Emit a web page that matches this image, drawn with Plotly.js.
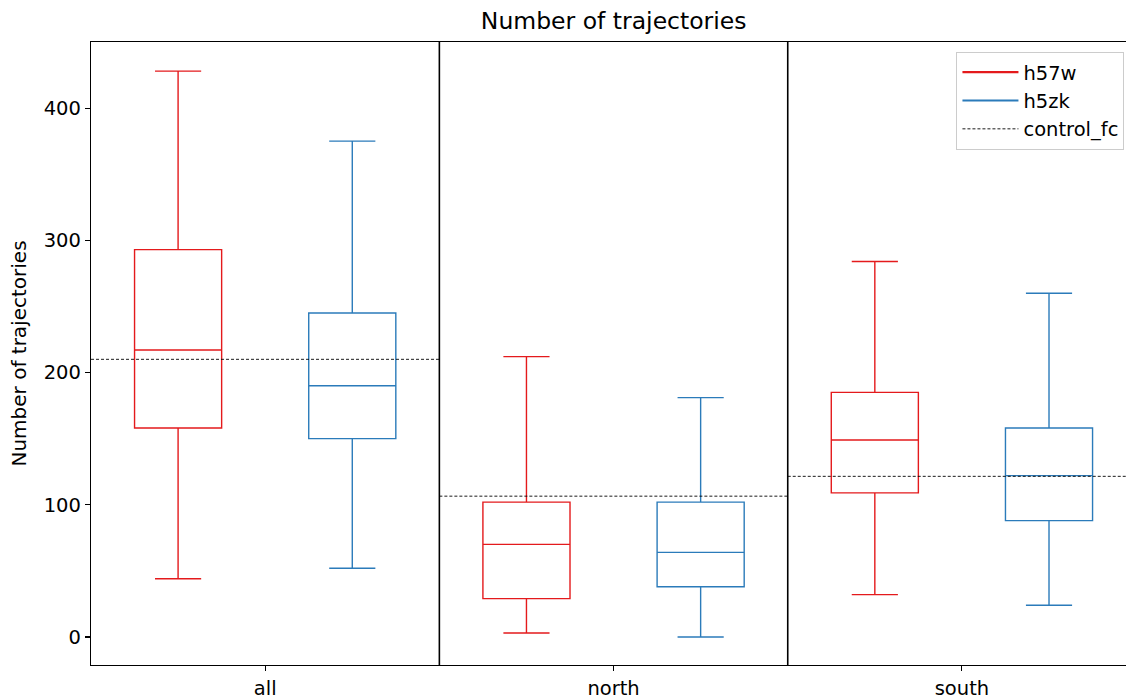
<!DOCTYPE html>
<html><head><meta charset="utf-8">
<script src="https://cdn.plot.ly/plotly-3.0.1.min.js"></script>
<style>html,body{margin:0;padding:0;background:#fff;}</style>
</head><body><div id="chart" style="width:1126px;height:698px;"></div>
<script>
const categories = ["all", "north", "south"];
const seriesNames = ["h57w", "h5zk"];
const h57w_low = [44, 3, 32];
const h57w_q1 = [158, 29, 109];
const h57w_med = [217, 70, 149];
const h57w_q3 = [293, 102, 185];
const h57w_high = [428, 212, 284];
const h5zk_low = [52, 0, 24];
const h5zk_q1 = [150, 38, 88];
const h5zk_med = [190, 64, 122];
const h5zk_q3 = [245, 102, 158];
const h5zk_high = [375, 181, 260];
const control_fc = [210, 106.5, 121.5];
const yTicks = [0, 100, 200, 300, 400];

const RED = "#e41a1c", BLUE = "#2b7bba";
const idx = categories.map((c, i) => i);

function boxTrace(name, color, off, low, q1, med, q3, high) {
  return {
    type: "box", name: name, showlegend: false,
    x: idx.map(i => i + off),
    lowerfence: low, q1: q1, median: med, q3: q3, upperfence: high,
    width: 0.25, whiskerwidth: 0.53,
    line: {color: color, width: 1.4},
    fillcolor: "rgba(255,255,255,0)",
    hoverinfo: "skip"
  };
}

const ctrlX = [], ctrlY = [];
control_fc.forEach((v, i) => { ctrlX.push(i - 0.5, i + 0.5, null); ctrlY.push(v, v, null); });

const traces = [
  boxTrace("h57w", RED, -0.25, h57w_low, h57w_q1, h57w_med, h57w_q3, h57w_high),
  boxTrace("h5zk", BLUE, 0.25, h5zk_low, h5zk_q1, h5zk_med, h5zk_q3, h5zk_high),
  {type: "scatter", mode: "lines", name: seriesNames[0], x: [null], y: [null], line: {color: RED, width: 2.1}},
  {type: "scatter", mode: "lines", name: seriesNames[1], x: [null], y: [null], line: {color: BLUE, width: 2.1}},
  {type: "scatter", mode: "lines", name: "control_fc", x: ctrlX, y: ctrlY, line: {color: "#000", width: 0.9, dash: "3px,2px"}, hoverinfo: "skip"}
];

const layout = {
  width: 1126, height: 698,
  margin: {l: 91, r: 0, t: 42, b: 33},
  paper_bgcolor: "#fff", plot_bgcolor: "#fff",
  font: {family: "DejaVu Sans", size: 19.5, color: "#000"},
  title: {text: "Number of trajectories", x: 0.505, xref: "paper", xanchor: "center", y: 1 - 21/698, yanchor: "middle", font: {size: 23.5}},
  xaxis: {
    range: [-0.5, 2.471], tickmode: "array", tickvals: idx, ticktext: categories,
    showgrid: false, zeroline: false, showline: true, mirror: true, linecolor: "#000", linewidth: 1.2,
    ticks: "outside", ticklen: 5, tickwidth: 1.1, tickcolor: "#000", tickfont: {size: 19.5}
  },
  yaxis: {
    range: [-21.2, 450], tickmode: "array", tickvals: yTicks,
    showgrid: false, zeroline: false, showline: true, linecolor: "#000", linewidth: 1.2,
    ticks: "outside", ticklen: 5, tickwidth: 1.1, tickcolor: "#000", tickfont: {size: 19.5},
    title: {text: "Number of trajectories", font: {size: 20}, standoff: 11}
  },
  shapes: [0.5, 1.5].map(v => ({type: "line", xref: "x", yref: "paper", x0: v, x1: v, y0: 0, y1: 1, line: {color: "#000", width: 1.6}})),
  legend: {
    x: 0.9985, xanchor: "right", y: 0.984, yanchor: "top",
    bgcolor: "rgba(255,255,255,0.9)", bordercolor: "#ccc", borderwidth: 1,
    font: {size: 19.5}, tracegroupgap: 0, itemwidth: 56
  },
  showlegend: true
};

Plotly.newPlot("chart", traces, layout, {displayModeBar: false, staticPlot: true});
</script></body></html>
